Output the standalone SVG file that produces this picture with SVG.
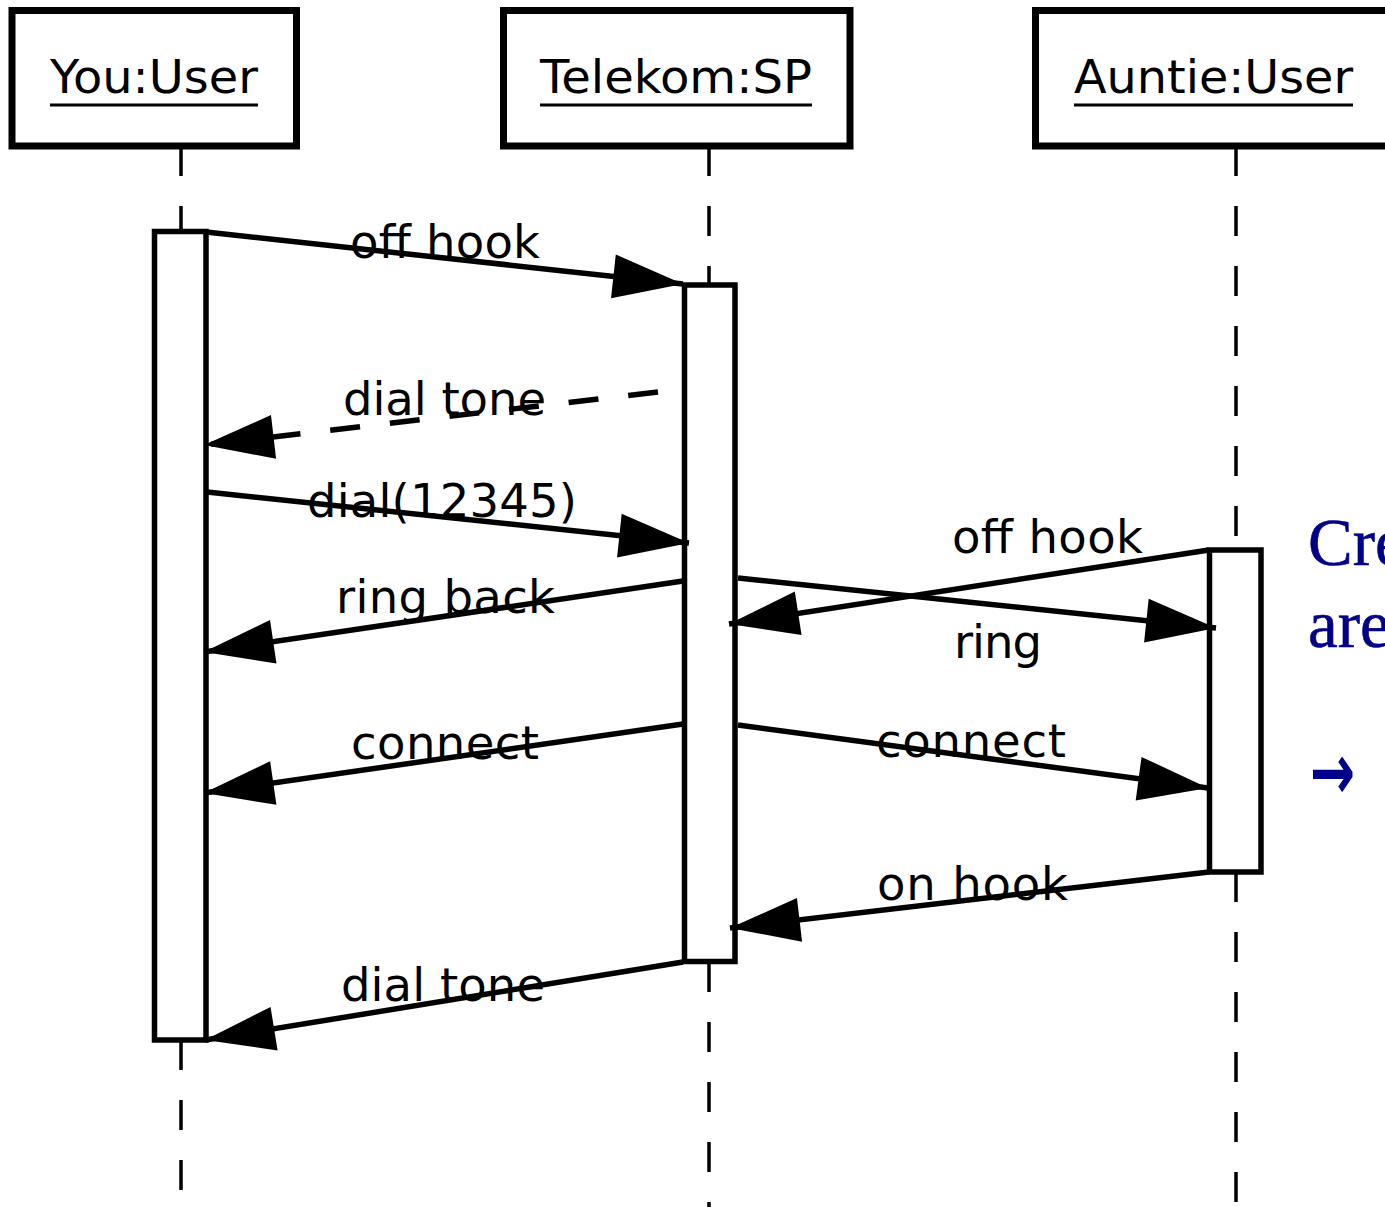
<svg xmlns="http://www.w3.org/2000/svg" width="1385" height="1207" viewBox="0 0 1385 1207">
<style>
.box{fill:#fff;stroke:#000;stroke-width:7}
.act{fill:#fff;stroke:#000;stroke-width:5.5}
.life{stroke:#000;stroke-width:3.5;stroke-dasharray:30 30;fill:none}
.ul{stroke:#000;stroke-width:3}
.title{font-family:"DejaVu Sans",sans-serif;font-size:47px;fill:#000}
.lbl{font-family:"DejaVu Sans",sans-serif;font-size:46.5px;fill:#000}
.msg{stroke:#000;stroke-width:5.5;fill:none;marker-end:url(#ah)}
.ret{stroke-dasharray:30 30}
.note{font-family:"Liberation Serif",serif;font-size:67px;fill:#00008b;stroke:#00008b;stroke-width:0.6}
</style>
<defs>
<marker id="ah" viewBox="-72 -24 74 48" refX="0" refY="0" markerWidth="74" markerHeight="48" markerUnits="userSpaceOnUse" orient="auto" overflow="visible">
<path d="M0,0 L-70,-22 L-70,22 Z" fill="#000"/>
</marker>
</defs>
<rect width="1385" height="1207" fill="#fff"/>

<g id="you">
<line class="life" x1="181" y1="146" x2="181" y2="232"/>
<line class="life" x1="181" y1="1040" x2="181" y2="1192"/>
<rect class="box" x="12" y="10.5" width="284.5" height="135.5"/>
<text class="title" x="50" y="93" textLength="208" lengthAdjust="spacingAndGlyphs">You:User</text>
<line class="ul" x1="50" y1="105" x2="258" y2="105"/>
<rect class="act" x="154.5" y="231.5" width="51.5" height="808.5"/>
</g>

<g id="telekom">
<line class="life" x1="709" y1="146" x2="709" y2="285"/>
<line class="life" x1="709" y1="962" x2="709" y2="1207"/>
<rect class="box" x="503.5" y="10.5" width="346.5" height="135.5"/>
<text class="title" x="540" y="93" textLength="272" lengthAdjust="spacingAndGlyphs">Telekom:SP</text>
<line class="ul" x1="540" y1="105" x2="812" y2="105"/>
<rect class="act" x="684.5" y="285" width="50.5" height="676.5"/>
</g>

<g id="auntie">
<line class="life" x1="1236" y1="146" x2="1236" y2="550"/>
<line class="life" x1="1236" y1="872" x2="1236" y2="1202"/>
<rect class="box" x="1035.5" y="10.5" width="400" height="135.5"/>
<text class="title" x="1074" y="93" textLength="279" lengthAdjust="spacingAndGlyphs">Auntie:User</text>
<line class="ul" x1="1074" y1="105" x2="1353" y2="105"/>
<rect class="act" x="1209.5" y="550" width="51.5" height="322"/>
</g>

<g id="connectors">
<path class="msg" d="M206,232 L683,284"/>
<path class="msg ret" d="M658,392 L204,445"/>
<path class="msg" d="M207,492 L689,543"/>
<path class="msg" d="M683,581 L204,652"/>
<path class="msg" d="M1209,550 L729,624"/>
<path class="msg" d="M738,578 L1216,628"/>
<path class="msg" d="M683,724 L204,793"/>
<path class="msg" d="M738,725 L1208,788"/>
<path class="msg" d="M1209,872 L730,928"/>
<path class="msg" d="M683,962 L205,1040"/>
</g>

<g id="labels">
<text class="lbl" x="350" y="258" textLength="190">off hook</text>
<text class="lbl" x="343" y="415" textLength="203">dial tone</text>
<text class="lbl" x="307" y="517" textLength="270">dial(12345)</text>
<text class="lbl" x="336" y="613" textLength="219">ring back</text>
<text class="lbl" x="952" y="553" textLength="191">off hook</text>
<text class="lbl" x="954" y="658" textLength="88">ring</text>
<text class="lbl" x="351" y="759" textLength="188">connect</text>
<text class="lbl" x="876" y="757" textLength="190">connect</text>
<text class="lbl" x="877" y="900" textLength="191">on hook</text>
<text class="lbl" x="341" y="1001" textLength="204">dial tone</text>
</g>

<g id="note">
<text class="note" x="1308" y="565">Cre</text>
<text class="note" x="1308" y="647">are</text>
<text transform="translate(1310,774.5) scale(1,1.46)" x="0" y="17" style="font-family:'DejaVu Sans',sans-serif;font-size:54px;font-weight:bold;fill:#00008b">→</text>
</g>
</svg>
